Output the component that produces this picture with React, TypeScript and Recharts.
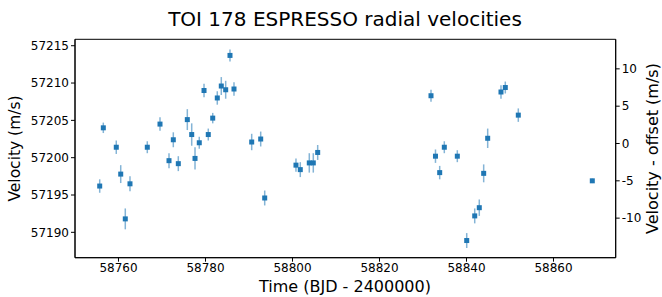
import { ScatterChart, Scatter, XAxis, YAxis, ErrorBar, ReferenceArea } from "recharts";

// BJD - 2400000
const times = [
  58755.68, 58756.51, 58759.49, 58760.51, 58761.56, 58762.64, 58766.62, 58769.54, 58771.61, 58772.6,
  58773.75, 58775.82, 58776.83, 58777.59, 58778.57, 58779.66, 58780.64, 58781.66, 58782.71, 58783.63,
  58784.64, 58785.63, 58786.55, 58790.62, 58792.69, 58793.61, 58800.8, 58801.79, 58803.86, 58804.78,
  58805.79, 58831.84, 58832.87, 58833.84, 58834.9, 58837.89, 58840.05, 58841.89, 58842.94, 58843.95,
  58844.87, 58847.93, 58848.92, 58851.91, 58868.92,
];
const rvs = [
  57196.2, 57204.0, 57201.4, 57197.8, 57191.8, 57196.5, 57201.4, 57204.5, 57199.6, 57202.4,
  57199.2, 57205.1, 57203.1, 57199.9, 57202.0, 57209.0, 57203.1, 57205.3, 57208.0, 57209.6,
  57209.1, 57213.7, 57209.2, 57202.1, 57202.5, 57194.6, 57199.0, 57198.4, 57199.3, 57199.3,
  57200.7, 57208.3, 57200.2, 57198.0, 57201.4, 57200.2, 57188.9, 57192.2, 57193.3, 57197.9,
  57202.6, 57208.8, 57209.4, 57205.7, 57196.9,
];
const errs = [
  0.9, 0.7, 0.9, 1.2, 1.4, 1.0, 0.8, 0.9, 1.0, 1.0,
  1.0, 1.4, 1.5, 1.5, 0.8, 0.9, 0.8, 0.7, 0.9, 1.2,
  1.2, 0.8, 0.9, 1.1, 1.0, 1.0, 0.9, 1.0, 1.3, 1.3,
  1.0, 0.8, 0.9, 0.9, 0.8, 0.8, 1.0, 1.0, 1.1, 1.2,
  1.3, 0.9, 0.8, 0.9, 0.3,
];
const offset = 57201.9;

const xTicks = [58760, 58780, 58800, 58820, 58840, 58860];
const yTicks = [57190, 57195, 57200, 57205, 57210, 57215];
const rightTicks = [-10, -5, 0, 5, 10];

const xDomain: [number, number] = [58750, 58874.3];
const yDomain: [number, number] = [57186.6, 57215.86];
const rightDomain: [number, number] = [yDomain[0] - offset, yDomain[1] - offset];

const data = times.map((t, i) => ({ t, rv: rvs[i], err: errs[i] }));

const blue = "#1f77b4";
const font = "DejaVu Sans, sans-serif";
const tickStyle = { fill: "#000", fontSize: 12, fontFamily: font };

const Square = (props: any) => {
  const { cx, cy } = props;
  return <rect x={cx - 2.5} y={cy - 2.5} width={5} height={5} fill={blue} />;
};

export default function App() {
  return (
    <div style={{ position: "fixed", left: 0, top: 0, width: 662, height: 297, background: "#fff" }}>
      <ScatterChart width={662} height={297} margin={{ top: 39.3, right: 0, bottom: 0, left: 0 }}>
        <XAxis
          type="number"
          dataKey="t"
          domain={xDomain}
          ticks={xTicks}
          allowDataOverflow
          height={39.3}
          tick={tickStyle}
          tickLine={{ stroke: "#000" }}
          axisLine={{ stroke: "#000" }}
          tickSize={4}
        />
        <YAxis
          yAxisId="left"
          type="number"
          dataKey="rv"
          domain={yDomain}
          ticks={yTicks}
          allowDataOverflow
          width={75}
          tick={tickStyle}
          tickLine={{ stroke: "#000" }}
          axisLine={{ stroke: "#000" }}
          tickSize={4}
        />
        <YAxis
          yAxisId="right"
          orientation="right"
          type="number"
          domain={rightDomain}
          ticks={rightTicks}
          allowDataOverflow
          width={46.3}
          tick={tickStyle}
          tickLine={{ stroke: "#000" }}
          axisLine={{ stroke: "#000" }}
          tickSize={4}
        />
        <ReferenceArea
          yAxisId="left"
          x1={xDomain[0]}
          x2={xDomain[1]}
          y1={yDomain[0]}
          y2={yDomain[1]}
          fill="none"
          stroke="#000"
          strokeWidth={1}
          fillOpacity={0}
        />
        <Scatter yAxisId="left" data={data} dataKey="rv" shape={Square} isAnimationActive={false}>
          <ErrorBar dataKey="err" direction="y" width={0} stroke={blue} strokeOpacity={0.55} strokeWidth={1.5} />
        </Scatter>
        <Scatter yAxisId="right" data={[]} isAnimationActive={false} />
      </ScatterChart>
      <svg width={662} height={297} style={{ position: "absolute", left: 0, top: 0, pointerEvents: "none" }} fontFamily={font} fill="#000">
        <text x={345} y={26} textAnchor="middle" fontSize={20}>
          TOI 178 ESPRESSO radial velocities
        </text>
        <text x={345} y={292} textAnchor="middle" fontSize={16}>
          Time (BJD - 2400000)
        </text>
        <text x={15} y={148.5} textAnchor="middle" dominantBaseline="central" fontSize={15.5} transform="rotate(-90, 15, 148.5)">
          Velocity (m/s)
        </text>
        <text x={652} y={148.5} textAnchor="middle" dominantBaseline="central" fontSize={16} transform="rotate(-90, 652, 148.5)">
          Velocity - offset (m/s)
        </text>
      </svg>
    </div>
  );
}
